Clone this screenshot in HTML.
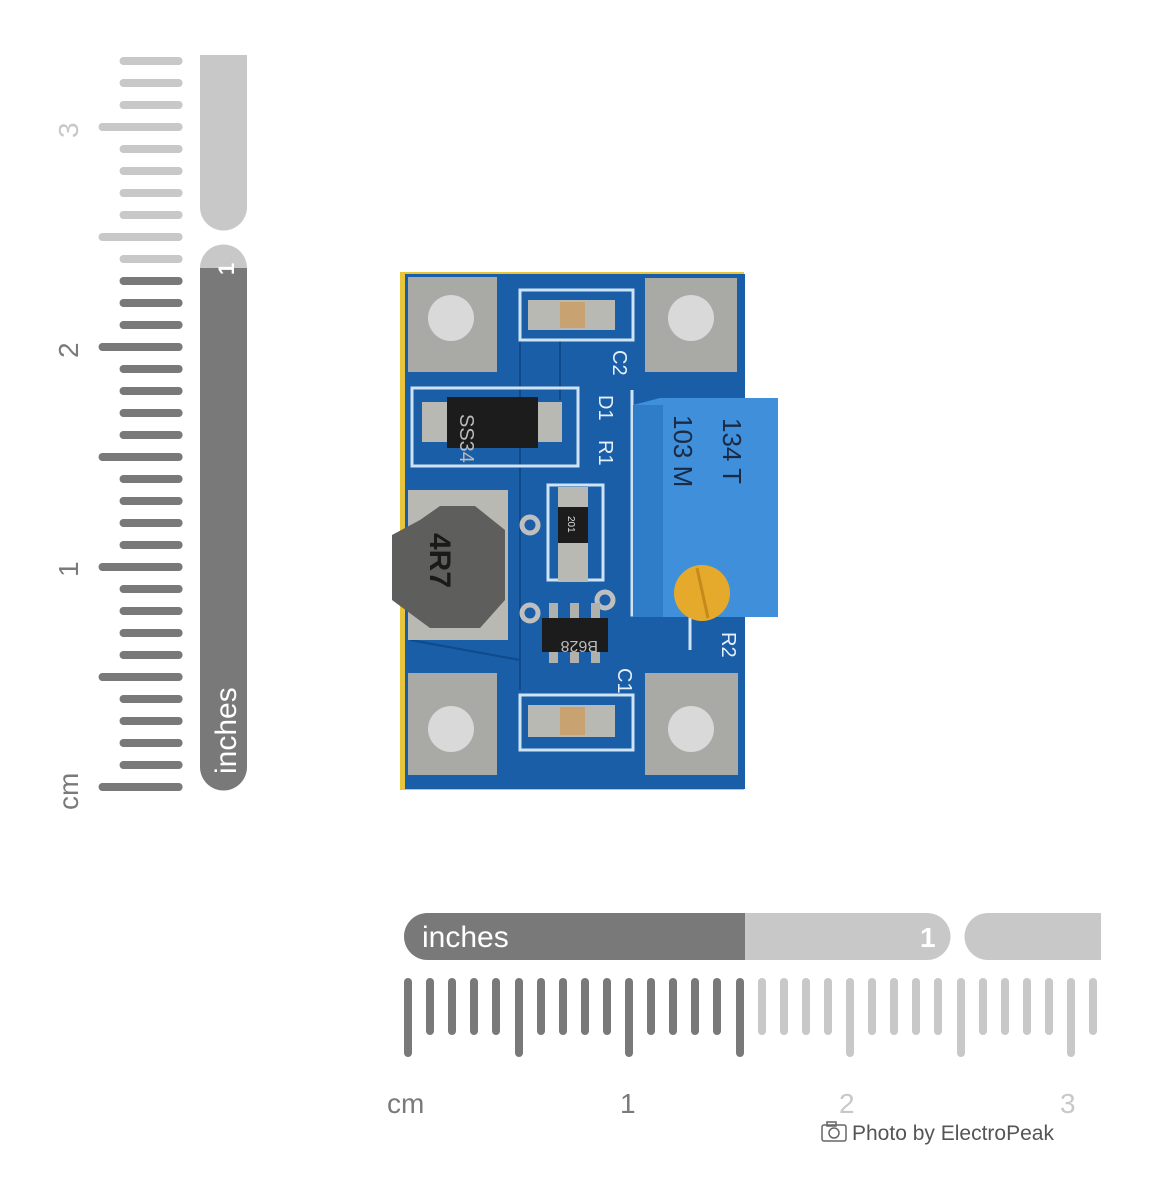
<!DOCTYPE html>
<html><head><meta charset="utf-8"><style>
html,body{margin:0;padding:0;background:#fff;width:1154px;height:1198px;overflow:hidden}
svg{display:block}
text{font-family:"Liberation Sans",sans-serif}
</style></head><body>
<svg width="1154" height="1198" viewBox="0 0 1154 1198" xmlns="http://www.w3.org/2000/svg">
<rect width="1154" height="1198" fill="#fff"/>
<!-- LEFT RULER -->
<g stroke-width="8" stroke-linecap="round" transform="translate(4,0) scale(0.955,1) translate(0,0)">
<g stroke="#797979">
<line x1="103" y1="787" x2="183" y2="787"/><line x1="125" y1="765" x2="183" y2="765"/><line x1="125" y1="743" x2="183" y2="743"/><line x1="125" y1="721" x2="183" y2="721"/><line x1="125" y1="699" x2="183" y2="699"/>
<line x1="103" y1="677" x2="183" y2="677"/><line x1="125" y1="655" x2="183" y2="655"/><line x1="125" y1="633" x2="183" y2="633"/><line x1="125" y1="611" x2="183" y2="611"/><line x1="125" y1="589" x2="183" y2="589"/>
<line x1="103" y1="567" x2="183" y2="567"/><line x1="125" y1="545" x2="183" y2="545"/><line x1="125" y1="523" x2="183" y2="523"/><line x1="125" y1="501" x2="183" y2="501"/><line x1="125" y1="479" x2="183" y2="479"/>
<line x1="103" y1="457" x2="183" y2="457"/><line x1="125" y1="435" x2="183" y2="435"/><line x1="125" y1="413" x2="183" y2="413"/><line x1="125" y1="391" x2="183" y2="391"/><line x1="125" y1="369" x2="183" y2="369"/>
<line x1="103" y1="347" x2="183" y2="347"/><line x1="125" y1="325" x2="183" y2="325"/><line x1="125" y1="303" x2="183" y2="303"/><line x1="125" y1="281" x2="183" y2="281"/>
</g>
<g stroke="#c8c8c8">
<line x1="125" y1="259" x2="183" y2="259"/>
<line x1="103" y1="237" x2="183" y2="237"/><line x1="125" y1="215" x2="183" y2="215"/><line x1="125" y1="193" x2="183" y2="193"/><line x1="125" y1="171" x2="183" y2="171"/><line x1="125" y1="149" x2="183" y2="149"/>
<line x1="103" y1="127" x2="183" y2="127"/><line x1="125" y1="105" x2="183" y2="105"/><line x1="125" y1="83" x2="183" y2="83"/><line x1="125" y1="61" x2="183" y2="61"/>
</g>
</g>
<g font-size="28" fill="#7a7a7a">
<text transform="translate(78,810) rotate(-90)">cm</text>
<text transform="translate(78,577) rotate(-90)">1</text>
<text transform="translate(78,358) rotate(-90)">2</text>
<text transform="translate(78,138) rotate(-90)" fill="#c8c8c8">3</text>
</g>
<path d="M200 55 H247 V207 A23.5 23.5 0 0 1 200 207 Z" fill="#c8c8c8"/>
<path d="M200 268 A23.5 23.5 0 0 1 247 268 Z" fill="#c8c8c8"/>
<path d="M200 268 H247 V767 A23.5 23.5 0 0 1 200 767 Z" fill="#797979"/>
<text transform="translate(236,774) rotate(-90)" font-size="30" fill="#fff">inches</text>
<text transform="translate(234,275) rotate(-90)" font-size="22" font-weight="bold" fill="#fff">1</text>

<!-- BOTTOM RULER -->
<path d="M427.5 913 H745 V960 H427.5 A23.5 23.5 0 0 1 427.5 913 Z" fill="#797979"/>
<path d="M745 913 H927 A23.5 23.5 0 0 1 927 960 H745 Z" fill="#c8c8c8"/>
<path d="M988 913 H1101 V960 H988 A23.5 23.5 0 0 1 988 913 Z" fill="#c8c8c8"/>
<text x="422" y="947" font-size="30" fill="#fff">inches</text>
<text x="920" y="947" font-size="28" font-weight="bold" fill="#fff">1</text>
<g stroke-width="8" stroke-linecap="round">
<g stroke="#797979">
<line x1="408" y1="982" x2="408" y2="1053"/><line x1="430" y1="982" x2="430" y2="1031"/><line x1="452" y1="982" x2="452" y2="1031"/><line x1="474" y1="982" x2="474" y2="1031"/><line x1="496" y1="982" x2="496" y2="1031"/>
<line x1="519" y1="982" x2="519" y2="1053"/><line x1="541" y1="982" x2="541" y2="1031"/><line x1="563" y1="982" x2="563" y2="1031"/><line x1="585" y1="982" x2="585" y2="1031"/><line x1="607" y1="982" x2="607" y2="1031"/>
<line x1="629" y1="982" x2="629" y2="1053"/><line x1="651" y1="982" x2="651" y2="1031"/><line x1="673" y1="982" x2="673" y2="1031"/><line x1="695" y1="982" x2="695" y2="1031"/><line x1="717" y1="982" x2="717" y2="1031"/>
<line x1="740" y1="982" x2="740" y2="1053"/>
</g>
<g stroke="#c8c8c8">
<line x1="762" y1="982" x2="762" y2="1031"/><line x1="784" y1="982" x2="784" y2="1031"/><line x1="806" y1="982" x2="806" y2="1031"/><line x1="828" y1="982" x2="828" y2="1031"/>
<line x1="850" y1="982" x2="850" y2="1053"/><line x1="872" y1="982" x2="872" y2="1031"/><line x1="894" y1="982" x2="894" y2="1031"/><line x1="916" y1="982" x2="916" y2="1031"/><line x1="938" y1="982" x2="938" y2="1031"/>
<line x1="961" y1="982" x2="961" y2="1053"/><line x1="983" y1="982" x2="983" y2="1031"/><line x1="1005" y1="982" x2="1005" y2="1031"/><line x1="1027" y1="982" x2="1027" y2="1031"/><line x1="1049" y1="982" x2="1049" y2="1031"/>
<line x1="1071" y1="982" x2="1071" y2="1053"/><line x1="1093" y1="982" x2="1093" y2="1031"/>
</g>
</g>
<g font-size="28" fill="#7a7a7a">
<text x="387" y="1113">cm</text>
<text x="620" y="1113">1</text>
<text x="839" y="1113" fill="#c8c8c8">2</text>
<text x="1060" y="1113" fill="#c8c8c8">3</text>
</g>
<g fill="none" stroke="#666" stroke-width="1.5">
<rect x="822" y="1125" width="24" height="16" rx="2"/><circle cx="834" cy="1133" r="5"/><rect x="827" y="1122" width="9" height="4"/>
</g>
<text x="852" y="1140" font-size="21" fill="#555">Photo by ElectroPeak</text>

<!-- PCB -->
<rect x="400" y="272" width="344" height="518" fill="#e8c53a"/>
<rect x="405" y="274" width="340" height="515" fill="#1a5ea8"/>
<g fill="none" stroke="#0f4a8a" stroke-width="2">
<line x1="520" y1="340" x2="520" y2="690"/><line x1="560" y1="340" x2="560" y2="400"/><line x1="410" y1="640" x2="520" y2="660"/>
</g>
<g fill="none" stroke="#cfe3f5" stroke-width="3">
<path d="M520 290 H633 V340 H520 Z"/>
<path d="M520 695 H633 V750 H520 Z"/>
<path d="M412 388 H578 V466 H412 Z"/>
<path d="M548 485 H603 V580 H548 Z"/>
<path d="M632 390 V615 H690 V650"/>
</g>
<g fill="#a9a9a6">
<rect x="408" y="277" width="89" height="95"/><rect x="645" y="278" width="92" height="94"/>
<rect x="408" y="673" width="89" height="102"/><rect x="645" y="673" width="93" height="102"/>
</g>
<g fill="#d9d9d9">
<circle cx="451" cy="318" r="23"/><circle cx="691" cy="318" r="23"/>
<circle cx="451" cy="729" r="23"/><circle cx="691" cy="729" r="23"/>
</g>
<rect x="528" y="300" width="87" height="30" fill="#b9b9b4"/><rect x="560" y="302" width="25" height="26" fill="#c9a271"/>
<rect x="528" y="705" width="87" height="32" fill="#b9b9b4"/><rect x="560" y="707" width="25" height="28" fill="#c9a271"/>
<rect x="422" y="402" width="140" height="40" fill="#b9b9b4"/>
<rect x="447" y="397" width="91" height="51" fill="#1c1c1c"/>
<text transform="translate(460,414) rotate(90)" font-size="20" fill="#bbb">SS34</text>
<rect x="558" y="487" width="30" height="95" fill="#b9b9b4"/>
<rect x="558" y="507" width="30" height="36" fill="#1c1c1c"/>
<text transform="translate(568,516) rotate(90)" font-size="10" fill="#ddd">201</text>
<g fill="#1a5ea8" stroke="#bfbfbf" stroke-width="5"><circle cx="530" cy="525" r="8"/><circle cx="530" cy="613" r="8"/><circle cx="605" cy="600" r="8"/></g>
<g fill="#b0b0ac"><rect x="549" y="603" width="9" height="60"/><rect x="570" y="603" width="9" height="60"/><rect x="591" y="603" width="9" height="60"/></g>
<rect x="542" y="618" width="66" height="34" fill="#1c1c1c"/>
<text transform="translate(598,641) rotate(180)" font-size="16" fill="#bbb">B628</text>
<rect x="408" y="490" width="100" height="150" fill="#b9b9b4"/>
<path d="M420 520 L440 506 H475 L505 530 V600 L480 628 H430 L392 600 V535 Z" fill="#5e5e5c"/>
<text transform="translate(430,533) rotate(90)" font-size="30" font-weight="bold" fill="#1a1a1a">4R7</text>
<path d="M633 405 L660 398 H778 V617 H633 Z" fill="#3f8fdb"/>
<rect x="633" y="405" width="30" height="212" fill="#2f7cc9"/>
<g font-size="26" fill="#1b2a44" font-family="Liberation Mono,monospace">
<text transform="translate(723,418) rotate(90)">134 T</text>
<text transform="translate(674,415) rotate(90)">103 M</text>
</g>
<circle cx="702" cy="593" r="28" fill="#e5aa2c"/>
<line x1="697" y1="568" x2="708" y2="618" stroke="#c48a1a" stroke-width="3"/>
<g font-size="20" fill="#e6f0fa">
<text transform="translate(613,350) rotate(90)">C2</text>
<text transform="translate(599,395) rotate(90)">D1</text>
<text transform="translate(599,440) rotate(90)">R1</text>
<text transform="translate(618,668) rotate(90)">C1</text>
<text transform="translate(722,632) rotate(90)">R2</text>
</g>
</svg>
</body></html>
